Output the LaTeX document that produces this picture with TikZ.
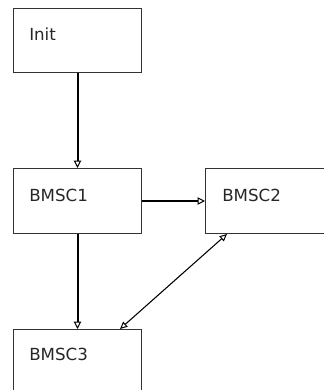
\documentclass[tikz,border=0pt]{standalone}
\usepackage{fontspec}
\setmainfont{DejaVu Sans}
\usetikzlibrary{arrows.meta,calc}
\begin{document}
\begin{tikzpicture}[x=0.75pt,y=-0.75pt,
  box/.style={draw=black!80,line width=0.75pt,rectangle,inner sep=0pt,anchor=north west},
  lbl/.style={anchor=base west,inner sep=0pt,font=\fontsize{12.5}{14}\selectfont,text=black!85},
  thickarrow/.style={line width=1.5pt,-{Triangle[open,length=5.5pt,width=5.5pt,line width=0.75pt]},shorten >=0pt},
  thinarrow/.style={line width=0.8pt,{Triangle[open,length=5.5pt,width=5pt,line width=0.75pt]}-{Triangle[open,length=5.5pt,width=5pt,line width=0.75pt]}}]
\useasboundingbox (0,0) rectangle (324,390);
\clip (0,0) rectangle (324,390);
\node[box,minimum width=96pt,minimum height=48pt] (init) at (13,8) {};
\node[box,minimum width=96pt,minimum height=48.75pt] (b1) at (13,168) {};
\node[box,minimum width=101pt,minimum height=48.75pt] (b2) at (205,168) {};
\node[box,minimum width=96pt,minimum height=53pt] (b3) at (13,329) {};
\node[lbl] (tinit) at (29,40) {Init};
\node[lbl] (t1) at (29,201) {BMSC1};
\node[lbl] (t2) at (222,201) {BMSC2};
\node[lbl] (t3) at (29,360) {BMSC3};
\draw[thickarrow] (init.south) -- (b1.north);
\draw[thickarrow] (b1.south) -- (b3.north);
\draw[thickarrow] (b1.east) -- (b2.west);
\draw[thinarrow] ($(b3.north west)+(107,0)$) -- ($(b2.south west)+(22,0)$);
\end{tikzpicture}
\end{document}
